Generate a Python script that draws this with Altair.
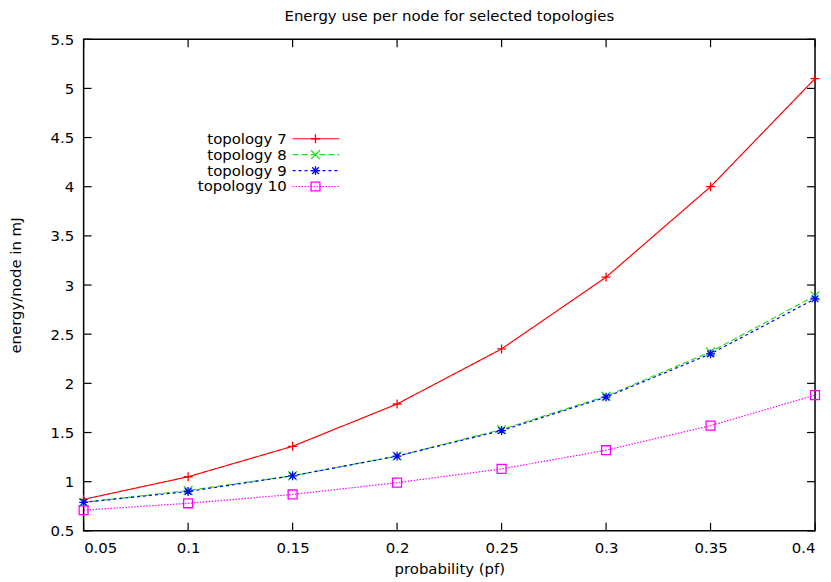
import altair as alt
import pandas as pd

# ---- data ----
prob = [0.05, 0.10, 0.15, 0.20, 0.25, 0.30, 0.35, 0.40]
topo7 = [0.82, 1.05, 1.36, 1.79, 2.35, 3.08, 4.00, 5.10]
topo8 = [0.79, 0.91, 1.06, 1.26, 1.53, 1.87, 2.32, 2.89]
topo9 = [0.79, 0.90, 1.06, 1.26, 1.52, 1.86, 2.30, 2.86]
topo10 = [0.71, 0.78, 0.87, 0.99, 1.13, 1.32, 1.57, 1.88]

series_names = ["topology 7", "topology 8", "topology 9", "topology 10"]
series_values = [topo7, topo8, topo9, topo10]
colors = ["#ff0000", "#22dd22", "#0000ff", "#ff00ff"]
dashes = [[1, 0], [6, 3], [3, 3], [1.5, 1.5]]
shapes = [
    "M-1,0L1,0M0,-1L0,1",
    "M-1,-1L1,1M-1,1L1,-1",
    "M-1,0L1,0M0,-1L0,1M-0.75,-0.75L0.75,0.75M-0.75,0.75L0.75,-0.75",
    "square",
]

x_ticks = [0.05, 0.1, 0.15, 0.2, 0.25, 0.3, 0.35, 0.4]
y_ticks = [0.5, 1, 1.5, 2, 2.5, 3, 3.5, 4, 4.5, 5, 5.5]

rows = []
for name, vals in zip(series_names, series_values):
    for p, v in zip(prob, vals):
        rows.append({"p": p, "e": v, "series": name})
df = pd.DataFrame(rows)

leg = pd.DataFrame({"series": series_names, "idx": list(range(len(series_names)))})

W, H = 735, 494
FONT = "DejaVu Sans"
FS = 15

color_scale = alt.Scale(domain=series_names, range=colors)
dash_scale = alt.Scale(domain=series_names, range=dashes)
shape_scale = alt.Scale(domain=series_names, range=shapes)

xs = alt.Scale(domain=[0.05, 0.4], nice=False, zero=False)
ys = alt.Scale(domain=[0.5, 5.5], nice=False, zero=False)

axis_style = dict(format="~g", ticks=False, domain=False, grid=False,
                  labelFont=FONT, labelFontSize=FS, labelColor="black",
                  titleFont=FONT, titleFontSize=FS, titleFontWeight="normal",
                  titleColor="black")

lines = alt.Chart(df).mark_line(strokeWidth=1.2).encode(
    x=alt.X("p:Q", scale=xs, title="probability (pf)",
            axis=alt.Axis(values=x_ticks, labelPadding=10, titlePadding=6, **axis_style)),
    y=alt.Y("e:Q", scale=ys, title="energy/node in mJ",
            axis=alt.Axis(values=y_ticks, labelPadding=10, titlePadding=27, **axis_style)),
    color=alt.Color("series:N", scale=color_scale, legend=None),
    strokeDash=alt.StrokeDash("series:N", scale=dash_scale, legend=None),
    detail="series:N",
)

points = alt.Chart(df).mark_point(filled=False, size=80, strokeWidth=1.3, opacity=1).encode(
    x=alt.X("p:Q", scale=xs),
    y=alt.Y("e:Q", scale=ys),
    color=alt.Color("series:N", scale=color_scale, legend=None),
    shape=alt.Shape("series:N", scale=shape_scale, legend=None),
)

# inward ticks on all four sides
xt = pd.DataFrame({"v": x_ticks})
yt = pd.DataFrame({"v": y_ticks})
tick_len = 8
xb = alt.Chart(xt).mark_rule(color="black", strokeWidth=1.2).encode(
    x=alt.X("v:Q", scale=xs), y=alt.value(H), y2=alt.value(H - tick_len))
xtop = alt.Chart(xt).mark_rule(color="black", strokeWidth=1.2).encode(
    x=alt.X("v:Q", scale=xs), y=alt.value(0), y2=alt.value(tick_len))
yl = alt.Chart(yt).mark_rule(color="black", strokeWidth=1.2).encode(
    y=alt.Y("v:Q", scale=ys), x=alt.value(0), x2=alt.value(tick_len))
yr = alt.Chart(yt).mark_rule(color="black", strokeWidth=1.2).encode(
    y=alt.Y("v:Q", scale=ys), x=alt.value(W), x2=alt.value(W - tick_len))

# custom gnuplot-style legend (label left, sample right)
leg_base = alt.Chart(leg).transform_calculate(py="100 + datum.idx * 16")
leg_text = leg_base.mark_text(align="right", baseline="middle", font=FONT,
                              fontSize=15, color="black").encode(
    x=alt.value(204), y=alt.Y("py:Q", scale=None), text="series:N")
leg_line = leg_base.mark_rule(strokeWidth=1.2).encode(
    x=alt.value(210), x2=alt.value(257), y=alt.Y("py:Q", scale=None),
    color=alt.Color("series:N", scale=color_scale, legend=None),
    strokeDash=alt.StrokeDash("series:N", scale=dash_scale, legend=None))
leg_pt = leg_base.mark_point(filled=False, size=80, strokeWidth=1.3, opacity=1).encode(
    x=alt.value(233), y=alt.Y("py:Q", scale=None),
    color=alt.Color("series:N", scale=color_scale, legend=None),
    shape=alt.Shape("series:N", scale=shape_scale, legend=None))

chart = alt.layer(lines, points, xb, xtop, yl, yr, leg_line, leg_pt, leg_text).properties(
    width=W, height=H,
    background="white",
    padding={"left": 0, "top": 0, "right": 0, "bottom": 0},
    title=alt.TitleParams("Energy use per node for selected topologies",
                          font=FONT, fontSize=15, fontWeight="normal",
                          anchor="middle", offset=8, color="black"),
).configure_view(stroke="black", strokeWidth=1.5)

chart.save("out.html", embed_options={"renderer": "svg", "actions": False})
